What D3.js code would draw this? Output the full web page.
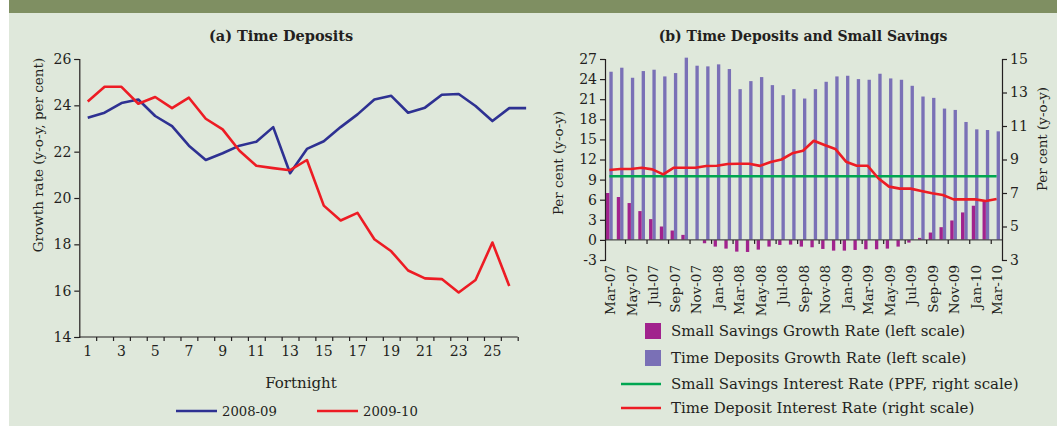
<!DOCTYPE html>
<html><head><meta charset="utf-8">
<script src="https://cdn.jsdelivr.net/npm/d3@7"></script>
<style>
body{margin:0;background:#fff}
svg{display:block}
text{font-family:"DejaVu Serif",serif;fill:#231f20}
</style>
</head><body>
<svg id="c" width="1057" height="426"></svg>
<script>
// ---------- Data: panel (a) ----------
const fortnights = [1,2,3,4,5,6,7,8,9,10,11,12,13,14,15,16,17,18,19,20,21,22,23,24,25,26,27];
const fortnightTicks = [1,3,5,7,9,11,13,15,17,19,21,23,25];
const td0809 = [23.46,23.68,24.10,24.25,23.54,23.10,22.26,21.64,21.93,22.26,22.43,23.06,21.07,22.12,22.45,23.06,23.61,24.25,24.41,23.68,23.90,24.46,24.49,23.97,23.32,23.88,23.88];
const td0910 = [24.17,24.80,24.80,24.07,24.36,23.88,24.33,23.42,22.96,22.04,21.39,21.29,21.20,21.64,19.67,19.03,19.36,18.22,17.70,16.87,16.53,16.50,15.92,16.46,18.08,16.20];
const leftYTicks = [14,16,18,20,22,24,26];

// ---------- Data: panel (b) ----------
const months = ["Mar-07","Apr-07","May-07","Jun-07","Jul-07","Aug-07","Sep-07","Oct-07","Nov-07","Dec-07",
  "Jan-08","Feb-08","Mar-08","Apr-08","May-08","Jun-08","Jul-08","Aug-08","Sep-08","Oct-08","Nov-08","Dec-08",
  "Jan-09","Feb-09","Mar-09","Apr-09","May-09","Jun-09","Jul-09","Aug-09","Sep-09","Oct-09","Nov-09","Dec-09",
  "Jan-10","Feb-10","Mar-10"];
const monthLabels = ["Mar-07","May-07","Jul-07","Sep-07","Nov-07","Jan-08","Mar-08","May-08","Jul-08","Sep-08",
  "Nov-08","Jan-09","Mar-09","May-09","Jul-09","Sep-09","Nov-09","Jan-10","Mar-10"];
const smallSavingsGrowth = [7.0,6.4,5.5,4.3,3.1,2.0,1.4,0.75,0,-0.5,-1.0,-1.3,-1.75,-1.8,-1.45,-1.0,-0.75,-0.7,-1.0,-1.1,-1.35,-1.6,-1.6,-1.5,-1.4,-1.4,-1.3,-1.0,-0.4,0.3,1.1,1.9,2.9,4.1,5.1,5.8,null];
const timeDepGrowth = [25.1,25.7,24.2,25.2,25.4,24.4,24.9,27.2,26.0,25.9,26.2,25.5,22.5,23.7,24.3,23.1,21.6,22.5,21.1,22.5,23.6,24.4,24.5,24.0,23.9,24.8,24.1,23.9,23.0,21.4,21.2,19.6,19.4,17.6,16.5,16.4,16.2];
const ssInterest = [8,8,8,8,8,8,8,8,8,8,8,8,8,8,8,8,8,8,8,8,8,8,8,8,8,8,8,8,8,8,8,8,8,8,8,8,8];
const tdInterest = [8.37,8.43,8.43,8.51,8.41,8.11,8.51,8.51,8.51,8.61,8.63,8.73,8.75,8.75,8.62,8.85,9.0,9.37,9.52,10.12,9.87,9.63,8.87,8.63,8.63,7.88,7.38,7.26,7.26,7.12,6.98,6.88,6.62,6.62,6.62,6.52,6.64];
const leftBTicks = [-3,0,3,6,9,12,15,18,21,24,27];
const rightBTicks = [3,5,7,9,11,13,15];

// ---------- Colours ----------
const C = {bg:"#dfe8db", top:"#7f8f62", blue:"#2e3192", red:"#ed1c24", lav:"#7a70b6", mag:"#a1228d", green:"#00a651", axis:"#231f20"};
const FONT = "DejaVu Serif";

const svg = d3.select("#c");
svg.append("rect").attr("x",9).attr("y",0).attr("width",1048).attr("height",426).attr("fill",C.bg);
svg.append("rect").attr("x",9).attr("y",0).attr("width",1048).attr("height",13).attr("fill",C.top);

function styleAxis(g, fs){
  g.select(".domain").attr("stroke",C.axis).attr("stroke-width",1.2);
  g.selectAll(".tick line").attr("stroke",C.axis).attr("stroke-width",1.2);
  g.selectAll("text").attr("font-size",fs).attr("font-family",FONT).attr("fill",C.axis);
}

// ================= Panel (a) =================
const xa = d3.scaleLinear().domain([0.5,26.5]).range([79.3,517.7]);
const ya = d3.scaleLinear().domain([14,26]).range([337,59]);

svg.append("text").attr("x",281).attr("y",41).attr("text-anchor","middle")
  .attr("font-size",14.5).attr("font-weight","bold").text("(a) Time Deposits");

const gya = svg.append("g").attr("transform","translate(79.3,0)")
  .call(d3.axisLeft(ya).tickValues(leftYTicks).tickSize(5).tickPadding(3).tickFormat(d=>String(d)));
styleAxis(gya, 14);

const gxa = svg.append("g").attr("transform","translate(0,337)")
  .call(d3.axisBottom(xa).tickValues(fortnights.slice(0,26).map(d=>d+0.5)).tickSize(4).tickFormat(""));
styleAxis(gxa, 14);
gxa.select(".domain").attr("d",`M${xa(0.5)},0H${xa(26.5)}`);
svg.append("g").selectAll("text").data(fortnightTicks).join("text")
  .attr("x",d=>xa(d)).attr("y",356).attr("text-anchor","middle").attr("font-size",14).text(d=>d);

svg.append("text").attr("transform","translate(43,155) rotate(-90)").attr("text-anchor","middle")
  .attr("font-size",13.5).text("Growth rate (y-o-y, per cent)");
svg.append("text").attr("x",301).attr("y",388).attr("text-anchor","middle").attr("font-size",15).text("Fortnight");

const lineA = (arr)=>d3.line().x((d,i)=>xa(fortnights[i])).y(d=>ya(d))(arr);
svg.append("path").attr("d",lineA(td0809)).attr("fill","none").attr("stroke",C.blue).attr("stroke-width",2.6).attr("stroke-linejoin","round");
svg.append("path").attr("d",lineA(td0910)).attr("fill","none").attr("stroke",C.red).attr("stroke-width",2.6).attr("stroke-linejoin","round");

const legA = [{n:"2008-09",c:C.blue,x:176},{n:"2009-10",c:C.red,x:317}];
legA.forEach(l=>{
  svg.append("line").attr("x1",l.x).attr("x2",l.x+41).attr("y1",411).attr("y2",411).attr("stroke",l.c).attr("stroke-width",2.6);
  svg.append("text").attr("x",l.x+46).attr("y",416).attr("font-size",13.2).text(l.n);
});

// ================= Panel (b) =================
const xb = d3.scaleBand().domain(months).range([604,1002]).paddingInner(0.38).paddingOuter(0.19);
const yl = d3.scaleLinear().domain([-3,27]).range([260,59]);
const yr = d3.scaleLinear().domain([3,15]).range([260,59]);
const bw = xb.bandwidth()/2;

svg.append("text").attr("x",803).attr("y",41).attr("text-anchor","middle")
  .attr("font-size",14).attr("font-weight","bold").text("(b) Time Deposits and Small Savings");

svg.append("g").selectAll("rect").data(months.map((m,i)=>({m,v:timeDepGrowth[i]}))).join("rect")
  .attr("x",d=>xb(d.m)+bw).attr("width",bw).attr("y",d=>yl(Math.max(0,d.v))).attr("height",d=>Math.abs(yl(d.v)-yl(0)))
  .attr("fill",C.lav);
svg.append("g").selectAll("rect").data(months.map((m,i)=>({m,v:smallSavingsGrowth[i]})).filter(d=>d.v!==null)).join("rect")
  .attr("x",d=>xb(d.m)).attr("width",bw).attr("y",d=>yl(Math.max(0,d.v))).attr("height",d=>Math.abs(yl(d.v)-yl(0)))
  .attr("fill",C.mag);

const lineB = (arr)=>d3.line().x((d,i)=>xb(months[i])+xb.bandwidth()/2).y(d=>yr(d))(arr);
svg.append("path").attr("d",lineB(ssInterest)).attr("fill","none").attr("stroke",C.green).attr("stroke-width",2.6);
svg.append("path").attr("d",lineB(tdInterest)).attr("fill","none").attr("stroke",C.red).attr("stroke-width",2.6).attr("stroke-linejoin","round");

const zeroTicks = months.filter((m,i)=>i%2===1 && i<36);
const gz = svg.append("g").attr("transform",`translate(0,${yl(0)})`);
gz.append("line").attr("x1",605).attr("x2",1002).attr("stroke","#4d4d4d").attr("stroke-width",1.3);
gz.selectAll("line.t").data(zeroTicks).join("line").attr("class","t")
  .attr("x1",d=>xb(d)+xb.step()*(1-0.19)).attr("x2",d=>xb(d)+xb.step()*(1-0.19)).attr("y1",0).attr("y2",4)
  .attr("stroke",C.axis).attr("stroke-width",1.2);

const gyl = svg.append("g").attr("transform","translate(605,0)")
  .call(d3.axisLeft(yl).tickValues(leftBTicks).tickSize(5).tickPadding(3).tickFormat(d=>String(d)));
styleAxis(gyl, 14);

const gyr = svg.append("g").attr("transform","translate(1002,0)")
  .call(d3.axisRight(yr).tickValues(rightBTicks).tickSize(5).tickPadding(3).tickFormat(d=>String(d)));
styleAxis(gyr, 14);

svg.append("g").selectAll("text").data(monthLabels).join("text")
  .attr("transform",d=>`translate(${xb(d)+xb.bandwidth()/2+1},265) rotate(-90)`)
  .attr("text-anchor","end").attr("dy","0.35em").attr("font-size",13.5).text(d=>d);

svg.append("text").attr("transform","translate(563,163) rotate(-90)").attr("text-anchor","middle")
  .attr("font-size",13.5).text("Per cent (y-o-y)");
svg.append("text").attr("transform","translate(1047,139) rotate(-90)").attr("text-anchor","middle")
  .attr("font-size",13.5).text("Per cent (y-o-y)");

const legB = [
  {t:"rect",c:C.mag,y:331,n:"Small Savings Growth Rate (left scale)"},
  {t:"rect",c:C.lav,y:358,n:"Time Deposits Growth Rate (left scale)"},
  {t:"line",c:C.green,y:384,n:"Small Savings Interest Rate (PPF, right scale)"},
  {t:"line",c:C.red,y:408,n:"Time Deposit Interest Rate (right scale)"}
];
legB.forEach(l=>{
  if(l.t==="rect") svg.append("rect").attr("x",645).attr("y",l.y-8).attr("width",16).attr("height",16).attr("fill",l.c);
  else svg.append("line").attr("x1",621).attr("x2",661).attr("y1",l.y).attr("y2",l.y).attr("stroke",l.c).attr("stroke-width",2.6);
  svg.append("text").attr("x",671).attr("y",l.y+5).attr("font-size",15).text(l.n);
});
</script>
</body></html>
